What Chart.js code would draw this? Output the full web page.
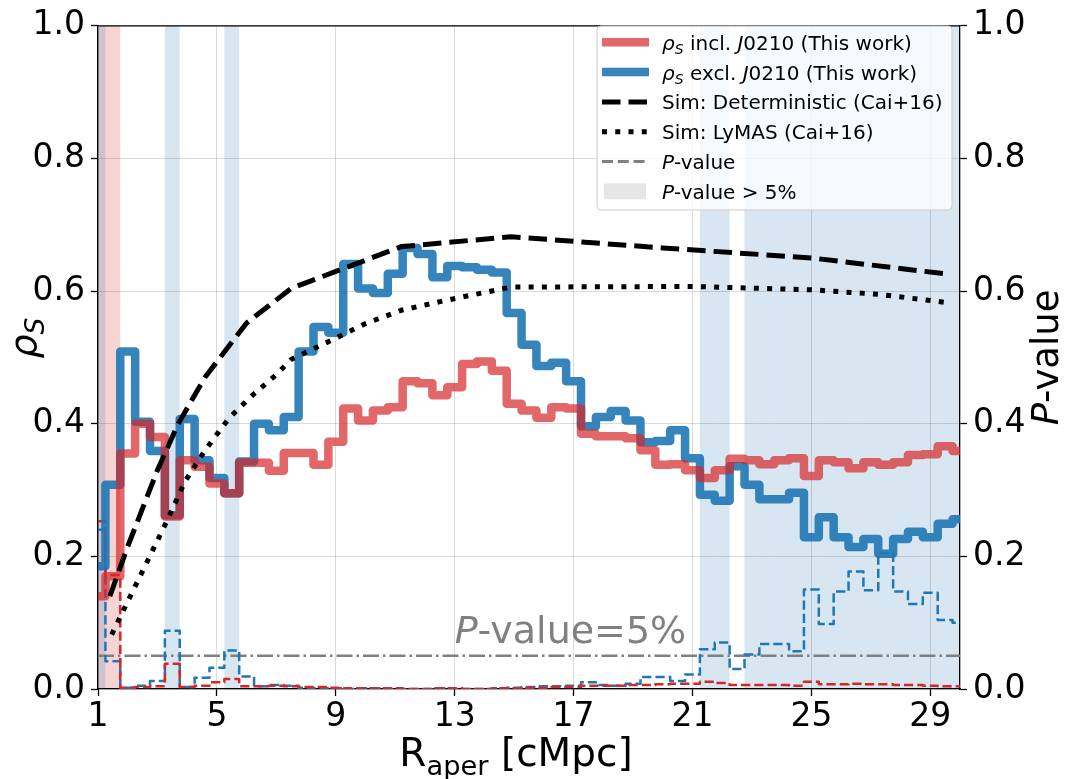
<!DOCTYPE html>
<html>
<head>
<meta charset="utf-8">
<script src="https://cdn.jsdelivr.net/npm/chart.js@4.4.1/dist/chart.umd.min.js"></script>
<style>
  html, body { margin: 0; padding: 0; background: #ffffff; }
  canvas { display: block; }
</style>
</head>
<body>
<canvas id="chart" width="1070" height="779"></canvas>
<script>
// Aperture radii (cMpc), one value per 0.5 cMpc bin
const rAper = [1, 1.5, 2, 2.5, 3, 3.5, 4, 4.5, 5, 5.5, 6, 6.5, 7, 7.5, 8, 8.5, 9, 9.5, 10, 10.5,
  11, 11.5, 12, 12.5, 13, 13.5, 14, 14.5, 15, 15.5, 16, 16.5, 17, 17.5, 18, 18.5, 19, 19.5, 20, 20.5,
  21, 21.5, 22, 22.5, 23, 23.5, 24, 24.5, 25, 25.5, 26, 26.5, 27, 27.5, 28, 28.5, 29, 29.5, 30];

// Spearman rho including J0210
const rhoIncl = [0.140, 0.170, 0.355, 0.400, 0.380, 0.260, 0.345, 0.335, 0.310, 0.295,
  0.341, 0.341, 0.329, 0.356, 0.356, 0.338, 0.373, 0.423, 0.405, 0.420,
  0.425, 0.464, 0.461, 0.443, 0.455, 0.490, 0.494, 0.480, 0.430, 0.420,
  0.409, 0.425, 0.423, 0.385, 0.381, 0.381, 0.378, 0.360, 0.338, 0.339,
  0.330, 0.318, 0.330, 0.347, 0.345, 0.339, 0.345, 0.348, 0.321, 0.345,
  0.342, 0.333, 0.342, 0.338, 0.342, 0.353, 0.354, 0.366, 0.359];

// Spearman rho excluding J0210
const rhoExcl = [0.185, 0.308, 0.509, 0.403, 0.359, 0.262, 0.407, 0.345, 0.318, 0.295,
  0.343, 0.400, 0.390, 0.410, 0.509, 0.546, 0.537, 0.641, 0.604, 0.597,
  0.626, 0.665, 0.656, 0.621, 0.638, 0.636, 0.632, 0.628, 0.567, 0.519,
  0.487, 0.492, 0.464, 0.396, 0.410, 0.419, 0.405, 0.372, 0.374, 0.390,
  0.348, 0.293, 0.284, 0.336, 0.308, 0.286, 0.286, 0.296, 0.229, 0.259,
  0.229, 0.214, 0.226, 0.204, 0.226, 0.237, 0.229, 0.249, 0.256];

// P-values of the correlations
const pIncl = [0.253, 0.172, 0.002, 0.003, 0.004, 0.038, 0.003, 0.005, 0.010, 0.015,
  0.004, 0.004, 0.005, 0.004, 0.003, 0.003, 0.002, 0.001, 0.001, 0.001,
  0.001, 0.000, 0.000, 0.001, 0.001, 0.000, 0.000, 0.001, 0.001, 0.002,
  0.002, 0.003, 0.003, 0.005, 0.005, 0.005, 0.006, 0.006, 0.007, 0.008,
  0.008, 0.011, 0.009, 0.006, 0.006, 0.006, 0.006, 0.005, 0.011, 0.007,
  0.007, 0.008, 0.007, 0.007, 0.006, 0.006, 0.005, 0.004, 0.004];

const pExcl = [0.240, 0.042, 0.002, 0.005, 0.012, 0.088, 0.003, 0.017, 0.032, 0.058,
  0.019, 0.004, 0.006, 0.005, 0.002, 0.001, 0.001, 0.000, 0.001, 0.001,
  0.000, 0.000, 0.000, 0.001, 0.000, 0.000, 0.000, 0.001, 0.002, 0.003,
  0.004, 0.004, 0.005, 0.010, 0.006, 0.005, 0.008, 0.018, 0.018, 0.012,
  0.022, 0.060, 0.070, 0.030, 0.052, 0.068, 0.068, 0.057, 0.150, 0.098,
  0.147, 0.177, 0.149, 0.205, 0.147, 0.128, 0.145, 0.104, 0.100];

// Simulation predictions (Cai+16)
const simDetR   = [1.4, 2.0, 3.0, 3.7, 4.6, 6.0, 7.5, 11.2, 14.9, 20.0, 25.0, 29.5];
const simDetRho = [0.140, 0.215, 0.330, 0.400, 0.470, 0.552, 0.604, 0.667, 0.682, 0.665, 0.650, 0.626];
const simLyR    = [1.46, 2.0, 2.6, 3.25, 3.93, 4.6, 5.4, 6.2, 7.0, 7.5, 9.0, 10.0, 11.2, 12.7, 14.9, 21.0, 25.0, 27.3, 29.5];
const simLyRho  = [0.082, 0.132, 0.187, 0.247, 0.313, 0.360, 0.408, 0.443, 0.474, 0.497, 0.529, 0.551, 0.571, 0.586, 0.606, 0.607, 0.602, 0.595, 0.583];

// Significance threshold and axis ticks
const pThreshold = 0.05;
const xTicks = [1, 5, 9, 13, 17, 21, 25, 29];
const yTicks = [0, 0.2, 0.4, 0.6, 0.8, 1.0];
const binHalfWidth = 0.25;

const FONT = '"DejaVu Sans"';
const RED = 'rgba(214,39,40,0.7)';
const BLUE = 'rgba(31,119,180,0.9)';
const RED_BAND = 'rgba(214,39,40,0.2)';
const BLUE_BAND = 'rgba(31,119,180,0.18)';

function pts(xs, ys) { return xs.map((x, i) => ({ x: x, y: ys[i] })); }

function fontStr(size, italic) { return (italic ? 'italic ' : '') + size + 'px ' + FONT; }
function richWidth(ctx, segs, size) {
  let w = 0;
  for (const s of segs) { ctx.font = fontStr(s.sub ? size * 0.7 : size, s.it); w += ctx.measureText(s.t).width; }
  return w;
}
function drawRich(ctx, segs, x, y, size, align, color) {
  const w = richWidth(ctx, segs, size);
  let cx = align === 'center' ? x - w / 2 : (align === 'right' ? x - w : x);
  ctx.fillStyle = color;
  ctx.textAlign = 'left';
  ctx.textBaseline = 'alphabetic';
  for (const s of segs) {
    const fs = s.sub ? size * 0.7 : size;
    ctx.font = fontStr(fs, s.it);
    ctx.fillText(s.t, cx, y + (s.sub ? size * 0.22 : 0));
    cx += ctx.measureText(s.t).width;
  }
}

// Shaded spans where the P-value exceeds the threshold (drawn beneath the grid)
const bandsPlugin = {
  id: 'pBands',
  beforeDraw(chart) {
    const { ctx, chartArea: a, scales } = chart;
    const xs = scales.x;
    ctx.save();
    ctx.beginPath();
    ctx.rect(a.left, a.top, a.right - a.left, a.bottom - a.top);
    ctx.clip();
    const paint = (pv, color) => {
      ctx.fillStyle = color;
      pv.forEach((p, i) => {
        if (p > pThreshold) {
          const x0 = xs.getPixelForValue(Math.max(xs.min, rAper[i] - binHalfWidth));
          const x1 = xs.getPixelForValue(Math.min(xs.max, rAper[i] + binHalfWidth));
          ctx.fillRect(x0, a.top, x1 - x0, a.bottom - a.top);
        }
      });
    };
    paint(pIncl, RED_BAND);
    paint(pExcl, BLUE_BAND);
    ctx.restore();
  }
};

// Frame, axis titles, threshold annotation and legend
const decorPlugin = {
  id: 'decor',
  afterDraw(chart) {
    const { ctx, chartArea: a, scales } = chart;
    ctx.save();
    // top spine
    ctx.strokeStyle = '#000';
    ctx.lineWidth = 1.3;
    ctx.beginPath();
    ctx.moveTo(a.left, a.top);
    ctx.lineTo(a.right, a.top);
    ctx.stroke();

    // threshold annotation
    const pct = Math.round(pThreshold * 100);
    drawRich(ctx, [{ t: 'P', it: true }, { t: '-value=' + pct + '%' }],
      scales.x.getPixelForValue(13), scales.y2.getPixelForValue(0.07), 38, 'left', '#808080');

    // x-axis title
    drawRich(ctx, [{ t: 'R' }, { t: 'aper', sub: true }, { t: ' [cMpc]' }],
      516, 766, 39, 'center', '#000');

    // left axis title
    ctx.save();
    ctx.translate(36, 338);
    ctx.rotate(-Math.PI / 2);
    drawRich(ctx, [{ t: 'ρ', it: true }, { t: 'S', it: true, sub: true }], 0, 0, 38, 'center', '#000');
    ctx.restore();

    // right axis title
    ctx.save();
    ctx.translate(1058, (a.top + a.bottom) / 2);
    ctx.rotate(-Math.PI / 2);
    drawRich(ctx, [{ t: 'P', it: true }, { t: '-value' }], 0, 0, 37, 'center', '#000');
    ctx.restore();

    // legend
    const lx = 597, ly = 26, lw = 355, lh = 184;
    ctx.beginPath();
    if (ctx.roundRect) ctx.roundRect(lx, ly, lw, lh, 4); else ctx.rect(lx, ly, lw, lh);
    ctx.fillStyle = 'rgba(255,255,255,0.8)';
    ctx.fill();
    ctx.strokeStyle = '#cccccc';
    ctx.lineWidth = 1;
    ctx.stroke();

    const rows = [
      { kind: 'line', color: RED, width: 8.5, dash: [], label: [{ t: 'ρ', it: true }, { t: 'S', it: true, sub: true }, { t: ' incl. ' }, { t: 'J', it: true }, { t: '0210 (This work)' }] },
      { kind: 'line', color: BLUE, width: 8.5, dash: [], label: [{ t: 'ρ', it: true }, { t: 'S', it: true, sub: true }, { t: ' excl. ' }, { t: 'J', it: true }, { t: '0210 (This work)' }] },
      { kind: 'line', color: '#000', width: 5, dash: [18.5, 8], label: [{ t: 'Sim: Deterministic (Cai+16)' }] },
      { kind: 'line', color: '#000', width: 5, dash: [5, 8.25], label: [{ t: 'Sim: LyMAS (Cai+16)' }] },
      { kind: 'line', color: '#808080', width: 3, dash: [11, 4.8], label: [{ t: 'P', it: true }, { t: '-value' }] },
      { kind: 'patch', color: 'rgba(128,128,128,0.2)', label: [{ t: 'P', it: true }, { t: '-value > ' + pct + '%' }] }
    ];
    rows.forEach((r, i) => {
      const cy = 42.3 + i * 29.8;
      if (r.kind === 'line') {
        ctx.save();
        ctx.beginPath();
        ctx.rect(601, cy - 10, 49, 20);
        ctx.clip();
        ctx.strokeStyle = r.color;
        ctx.lineWidth = r.width;
        ctx.setLineDash(r.dash);
        ctx.lineCap = 'butt';
        ctx.beginPath();
        ctx.moveTo(602, cy);
        ctx.lineTo(649, cy);
        ctx.stroke();
        ctx.restore();
      } else {
        ctx.fillStyle = r.color;
        ctx.fillRect(604, cy - 8, 42, 16);
      }
      drawRich(ctx, r.label, 662, cy + 7.5, 20, 'left', '#000');
    });
    ctx.restore();
  }
};

function stepSet(ys, color, width, dash, axis, order) {
  return {
    data: pts(rAper, ys), yAxisID: axis, stepped: 'middle',
    borderColor: color, borderWidth: width, borderDash: dash,
    borderJoinStyle: 'round', borderCapStyle: 'butt',
    pointRadius: 0, fill: false, clip: 0, order: order
  };
}

const tickFont = { family: 'DejaVu Sans', size: 33 };

new Chart(document.getElementById('chart'), {
  type: 'line',
  data: {
    datasets: [
      { data: pts(simDetR, simDetRho), yAxisID: 'y', borderColor: '#000', borderWidth: 5, borderDash: [18.5, 8],
        pointRadius: 0, fill: false, tension: 0, clip: 0, order: 0, borderCapStyle: 'butt', borderJoinStyle: 'round' },
      { data: pts(simLyR, simLyRho), yAxisID: 'y', borderColor: '#000', borderWidth: 5, borderDash: [5, 8.25],
        pointRadius: 0, fill: false, tension: 0, clip: 0, order: 1, borderCapStyle: 'butt', borderJoinStyle: 'round' },
      stepSet(rhoIncl, RED, 8.5, [], 'y', 2),
      stepSet(rhoExcl, BLUE, 8.5, [], 'y', 3),
      stepSet(pIncl, '#d62728', 2.5, [9.25, 4], 'y2', 4),
      stepSet(pExcl, '#1f77b4', 2.5, [9.25, 4], 'y2', 5),
      { data: [{ x: rAper[0], y: pThreshold }, { x: rAper[rAper.length - 1], y: pThreshold }], yAxisID: 'y2',
        borderColor: '#808080', borderWidth: 2.5, borderDash: [16, 4, 2.5, 4],
        pointRadius: 0, fill: false, clip: 0, order: 6 }
    ]
  },
  options: {
    responsive: false,
    animation: false,
    events: [],
    layout: { padding: { top: 17, left: 0, right: 0, bottom: 0 } },
    plugins: { legend: { display: false }, tooltip: { enabled: false } },
    scales: {
      x: {
        type: 'linear', min: 1, max: 30,
        afterBuildTicks: s => { s.ticks = xTicks.map(v => ({ value: v })); },
        afterFit: s => { s.height = 90; },
        ticks: { font: tickFont, color: '#000', padding: 2, maxRotation: 0, autoSkip: false, callback: v => String(v) },
        grid: { color: 'rgba(0,0,0,0.14)', lineWidth: 1, tickColor: '#000', tickLength: 7, tickWidth: 1.3 },
        border: { color: '#000', width: 1.3 }
      },
      y: {
        type: 'linear', position: 'left', min: 0, max: 1,
        afterBuildTicks: s => { s.ticks = yTicks.map(v => ({ value: v })); },
        afterFit: s => { s.width = 98; },
        ticks: { font: tickFont, color: '#000', padding: 6, callback: v => v.toFixed(1) },
        grid: { color: 'rgba(0,0,0,0.14)', lineWidth: 1, tickColor: '#000', tickLength: 7, tickWidth: 1.3 },
        border: { color: '#000', width: 1.3 }
      },
      y2: {
        type: 'linear', position: 'right', min: 0, max: 1,
        afterBuildTicks: s => { s.ticks = yTicks.map(v => ({ value: v })); },
        afterFit: s => { s.width = 110; },
        ticks: { font: tickFont, color: '#000', padding: 6, callback: v => v.toFixed(1) },
        grid: { drawOnChartArea: false, tickColor: '#000', tickLength: 7, tickWidth: 1.3 },
        border: { color: '#000', width: 1.3 }
      }
    }
  },
  plugins: [bandsPlugin, decorPlugin]
});
</script>
</body>
</html>
